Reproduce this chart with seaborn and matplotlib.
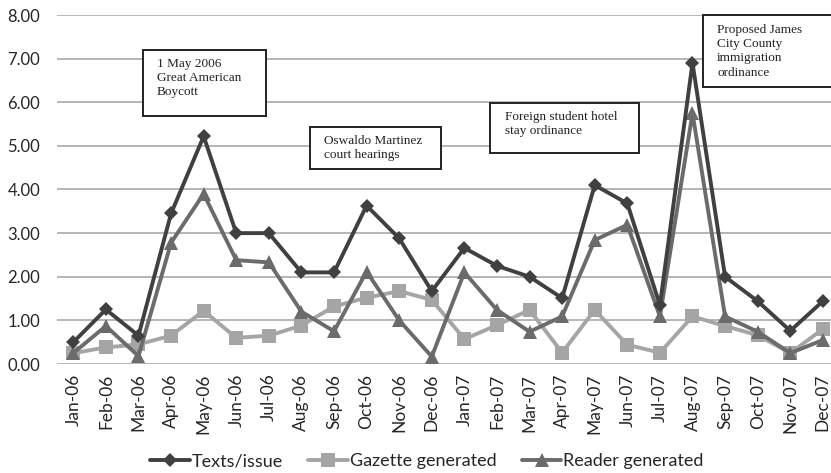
import numpy as np
import pandas as pd
import matplotlib
matplotlib.use('Agg')
import matplotlib.pyplot as plt
from matplotlib.patches import Rectangle
import seaborn as sns

months = ["Jan-06", "Feb-06", "Mar-06", "Apr-06", "May-06", "Jun-06", "Jul-06", "Aug-06",
          "Sep-06", "Oct-06", "Nov-06", "Dec-06", "Jan-07", "Feb-07", "Mar-07", "Apr-07",
          "May-07", "Jun-07", "Jul-07", "Aug-07", "Sep-07", "Oct-07", "Nov-07", "Dec-07"]
texts_issue = [0.50, 1.25, 0.65, 3.45, 5.22, 3.00, 3.00, 2.10, 2.10, 3.63, 2.88, 1.67,
               2.66, 2.25, 2.00, 1.51, 4.10, 3.68, 1.35, 6.90, 2.00, 1.44, 0.76, 1.44]
gazette = [0.25, 0.38, 0.45, 0.65, 1.22, 0.60, 0.65, 0.88, 1.32, 1.52, 1.67, 1.47,
           0.57, 0.89, 1.24, 0.26, 1.24, 0.44, 0.26, 1.09, 0.87, 0.66, 0.25, 0.80]
reader = [0.25, 0.87, 0.18, 2.78, 3.90, 2.38, 2.33, 1.20, 0.75, 2.12, 1.00, 0.17,
          2.10, 1.24, 0.74, 1.09, 2.84, 3.19, 1.09, 5.75, 1.09, 0.74, 0.25, 0.55]

series = ["Texts/issue", "Gazette generated", "Reader generated"]
df = pd.DataFrame({
    "pos": list(range(len(months))) * 3,
    "value": texts_issue + gazette + reader,
    "series": np.repeat(series, len(months)),
})

sns.set_style("white")
plt.rcParams['font.family'] = ['Lato', 'DejaVu Sans']

W, H = 831, 473
fig = plt.figure(figsize=(W / 100, H / 100), dpi=100)
# axes box in pixels: left 57, right 831, top 15, bottom 364
ax = fig.add_axes([57 / W, 1 - 364 / H, (831 - 57) / W, (364 - 15) / H])

palette = {"Texts/issue": "#404040", "Gazette generated": "#a5a5a5", "Reader generated": "#6b6b6b"}
markers = {"Texts/issue": "D", "Gazette generated": "s", "Reader generated": "^"}
sizes = {"Texts/issue": 7.5, "Gazette generated": 9.5, "Reader generated": 9.5}

# draw lighter series first so the dark line sits on top
for name in ["Gazette generated", "Reader generated", "Texts/issue"]:
    sub = df[df.series == name]
    sns.lineplot(data=sub, x="pos", y="value", ax=ax, color=palette[name], lw=2.8,
                 marker=markers[name], markersize=sizes[name], markeredgewidth=0,
                 label=name, sort=False)

ax.set_xlim(-0.5, 23.25)
ax.set_ylim(0, 8)
ax.set_yticks(np.arange(0, 9, 1))
ax.set_yticklabels([f"{v:.2f}" for v in range(9)], fontsize=12)
ax.set_xticks(range(len(months)))
ax.set_xticklabels(months, rotation=90, fontsize=12.5)
ax.set_xlabel("")
ax.set_ylabel("")
ax.grid(axis='y', color='#b0b0b0', lw=1.3)
ax.set_axisbelow(True)
for s in ax.spines.values():
    s.set_visible(False)
ax.tick_params(axis='y', length=0, pad=12)
ax.tick_params(axis='x', length=0, pad=7)

# legend at bottom, in the original order
handles, labels = ax.get_legend_handles_labels()
order = [labels.index(n) for n in series]
ax.legend([handles[i] for i in order], series, loc='center', bbox_to_anchor=(0.478, -0.279),
          ncol=3, frameon=False, fontsize=13, handlelength=2.2, columnspacing=1.4,
          handletextpad=0.1)


def px(x, y):
    return (x - 57) / (831 - 57), (364 - y) / (364 - 15)


notes = [
    ((143, 50, 266, 116), (157, 58), "1 May 2006\nGreat American\nBoycott"),
    ((310, 127, 441, 169), (324, 135), "Oswaldo Martinez\ncourt hearings"),
    ((490, 103, 639, 153), (505, 111), "Foreign student hotel\nstay ordinance"),
    ((703, 15, 845, 87), (717, 24), "Proposed James\nCity County\nimmigration\nordinance"),
]
for (x0, y0, x1, y1), (tx, ty), txt in notes:
    ax0, ay0 = px(x0, y1)
    ax1, ay1 = px(x1, y0)
    ax.add_patch(Rectangle((ax0, ay0), ax1 - ax0, ay1 - ay0, transform=ax.transAxes,
                           facecolor='white', edgecolor='#222222', lw=1.4, zorder=5,
                           clip_on=False))
    tx_, ty_ = px(tx, ty)
    ax.text(tx_, ty_, txt, transform=ax.transAxes, ha='left', va='top',
            fontsize=9.5, family='Liberation Serif', color='#222222',
            linespacing=1.25, zorder=6)

fig.savefig("out.png", dpi=100)
